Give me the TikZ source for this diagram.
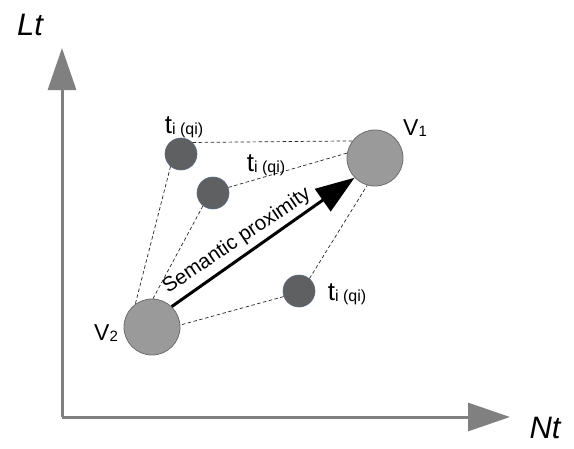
\documentclass[tikz,border=0pt]{standalone}
\usepackage{fontspec}
\setmainfont{Liberation Sans}
\usetikzlibrary{arrows.meta}
\definecolor{axisgray}{HTML}{808080}
\definecolor{bigfill}{HTML}{9A9A9A}
\definecolor{bigdraw}{HTML}{6E6E6E}
\definecolor{smallfill}{HTML}{5F6062}
\definecolor{smalldraw}{HTML}{5A6A82}
\tikzset{
  axis/.style={draw=axisgray, line width=3pt, -{Triangle[length=42pt,width=28pt]}},
  bigv/.style={circle, minimum size=56pt, inner sep=0pt, fill=bigfill, draw=bigdraw, line width=0.8pt},
  smallt/.style={circle, minimum size=32pt, inner sep=0pt, fill=smallfill, draw=smalldraw, line width=0.6pt},
  dashlink/.style={draw=black!85, line width=0.7pt, dash pattern=on 3.5pt off 2.5pt},
  proxarrow/.style={draw=black, line width=3pt, -{Triangle[length=39pt,width=27pt]}},
  lbl/.style={inner sep=0pt, text=black},
}
\newcommand{\tlabel}{{\fontsize{26}{26}\selectfont t}\raisebox{-1pt}{\fontsize{16}{16}\selectfont i (qi)}}
\begin{document}
\begin{tikzpicture}[x=1pt,y=-1pt]
\useasboundingbox (0,0) rectangle (574,448);
% axes
\coordinate (O) at (62,417);
\coordinate (Ytip) at (62,48);
\coordinate (Xtip) at (510,417);
\draw[axis] (O) -- (Ytip);
\draw[axis] (O) -- (Xtip);
\node[lbl, font=\fontsize{31}{31}\selectfont\itshape] (Lt) at (30,25) {Lt};
\node[lbl, font=\fontsize{31}{31}\selectfont\itshape] (Nt) at (545,428) {Nt};
% points
\node[bigv] (V1) at (375,158) {};
\node[bigv] (V2) at (152,327) {};
\node[smallt] (t1) at (181,154) {};
\node[smallt] (t2) at (213,193) {};
\node[smallt] (t3) at (299,291) {};
% dashed links
\draw[dashlink] (t1.45) -- (V1.143);
\draw[dashlink] (t1.230) -- (V2.126);
\draw[dashlink] (t2.20) -- (V1.170);
\draw[dashlink] (t2.232) -- (V2.88);
\draw[dashlink] (t3.50) -- (V1.254);
\draw[dashlink] (t3.200) -- (V2.4);
% arrow
\draw[proxarrow] (V2.46) -- (V1.224);
\node[lbl, rotate=34, font=\fontsize{20.5}{20.5}\selectfont] (sp) at (237,241) {Semantic proximity};
% labels
\node[lbl] (lt1) at (184,127) {\tlabel};
\node[lbl] (lt2) at (266,165) {\tlabel};
\node[lbl] (lt3) at (347,294) {\tlabel};
\node[lbl] (lV1) at (415,128) {{\fontsize{23}{23}\selectfont V}\raisebox{-1pt}{\fontsize{15}{15}\selectfont 1}};
\node[lbl] (lV2) at (106,333) {{\fontsize{23}{23}\selectfont V}\raisebox{-1pt}{\fontsize{15}{15}\selectfont 2}};
\end{tikzpicture}
\end{document}
